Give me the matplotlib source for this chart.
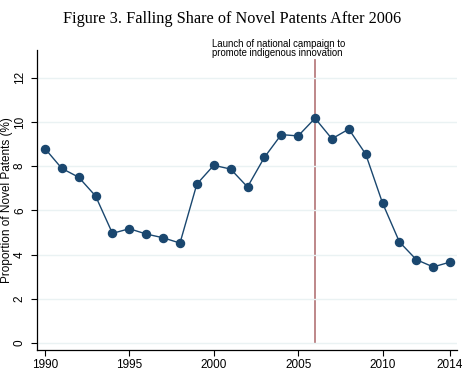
import matplotlib
matplotlib.use("Agg")
import matplotlib.pyplot as plt

years = list(range(1990, 2015))
share = [8.8, 7.9, 7.5, 6.65, 4.96, 5.17, 4.93, 4.76, 4.52, 7.19, 8.04, 7.87,
         7.06, 8.4, 9.43, 9.37, 10.17, 9.24, 9.68, 8.55, 6.33, 4.57, 3.77, 3.44, 3.66]
xticks = [1990, 1995, 2000, 2005, 2010, 2014]
yticks = [0, 2, 4, 6, 8, 10, 12]
event_year = 2006
event_text = "Launch of national campaign to\npromote indigenous innovation"

NAVY = "#1a476f"
SANS = ["Liberation Sans", "DejaVu Sans"]

fig = plt.figure(figsize=(4.64, 3.76), dpi=100)
# axes box: left spine at x=37px, right end at 457px, bottom at 350px, top at 50px
ax = fig.add_axes([37 / 464, 26 / 376, 420 / 464, 300 / 376])

ax.grid(axis="y", color="#eaf2f3", linewidth=1.0, zorder=0)
ax.plot([event_year, event_year], [0, 12.8], color="#b97e80", linewidth=1.3, zorder=1)
ax.plot(years, share, color=NAVY, linewidth=1.0, marker="o", markersize=5.8,
        markerfacecolor=NAVY, markeredgecolor=NAVY, zorder=3)

ax.set_xlim(1989.53, 2014.41)
ax.set_ylim(-0.32, 13.26)
ax.set_xticks(xticks)
ax.set_yticks(yticks)
ax.set_xticklabels([str(t) for t in xticks], family=SANS, fontsize=8.5)
ax.set_yticklabels([str(t) for t in yticks], family=SANS, fontsize=8.5,
                   rotation=90, va="center")
ax.tick_params(direction="out", length=4, width=0.8)
ax.tick_params(axis="x", pad=2.5)
ax.tick_params(axis="y", pad=4)
ax.set_ylabel("Proportion of Novel Patents (%)", family=SANS, fontsize=8.5)
ax.yaxis.set_label_coords(-24 / 420, 0.5)

for s in ("top", "right"):
    ax.spines[s].set_visible(False)
for s in ("left", "bottom"):
    ax.spines[s].set_linewidth(0.9)

ax.text(1999.9, 12.9, event_text, family=SANS, fontsize=6.9, va="bottom",
        ha="left", linespacing=0.9)

fig.text(0.5, 0.972, "Figure 3. Falling Share of Novel Patents After 2006",
         family=["Liberation Serif", "DejaVu Serif"], fontsize=11.7, ha="center", va="top")

fig.savefig("out.png", dpi=100)
